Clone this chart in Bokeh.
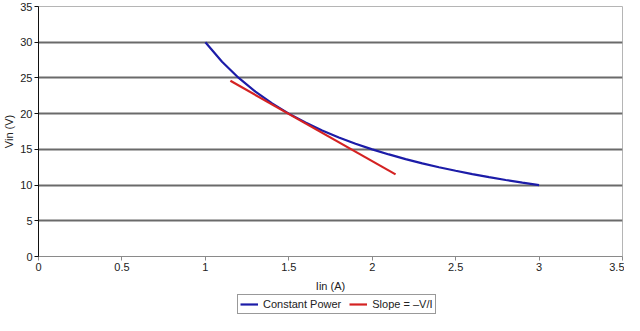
from bokeh.plotting import figure
from bokeh.layouts import column
from bokeh.models import Range1d, FixedTicker, NumeralTickFormatter, Legend, LegendItem
from bokeh.embed import file_html
from bokeh.resources import INLINE

# Data
power_i = [1.0, 1.1, 1.2, 1.3, 1.4, 1.5, 1.6, 1.7, 1.8, 1.9, 2.0,
           2.1, 2.2, 2.3, 2.4, 2.5, 2.6, 2.7, 2.8, 2.9, 3.0]
power_v = [30.0, 27.27, 25.0, 23.08, 21.43, 20.0, 18.75, 17.65, 16.67, 15.79, 15.0,
           14.29, 13.64, 13.04, 12.5, 12.0, 11.54, 11.11, 10.71, 10.34, 10.0]
slope_i = [1.15, 2.14]
slope_v = [24.6, 11.5]
x_ticks = [0, 0.5, 1, 1.5, 2, 2.5, 3, 3.5]
y_ticks = [0, 5, 10, 15, 20, 25, 30, 35]
grid_ticks = [5, 10, 15, 20, 25, 30]
series_names = ["Constant Power", "Slope = \u2013V/I"]
series_colors = ["#1c1ca8", "#d42222"]

FONT = "Liberation Sans"

p = figure(width=624, height=294, output_backend="svg", toolbar_location=None,
           x_range=Range1d(0, 3.5), y_range=Range1d(0, 35),
           min_border_left=36, min_border_right=2, min_border_top=6, min_border_bottom=36)

p.background_fill_color = "white"
p.border_fill_color = "white"
p.outline_line_color = "#b5b5b5"
p.outline_line_width = 1

# Grid
p.xgrid.visible = False
p.ygrid.ticker = FixedTicker(ticks=grid_ticks)
p.ygrid.grid_line_color = "#6a6a6a"
p.ygrid.grid_line_width = 2

# Axes
for ax in (p.xaxis[0], p.yaxis[0]):
    ax.major_label_text_font = FONT
    ax.major_label_text_font_size = "11px"
    ax.major_label_text_color = "#222222"
    ax.axis_label_text_font = FONT
    ax.axis_label_text_font_size = "11px"
    ax.axis_label_text_font_style = "normal"
    ax.axis_label_text_color = "#222222"
    ax.minor_tick_line_color = None
    ax.major_tick_in = 0
    ax.major_tick_out = 4

p.xaxis.ticker = FixedTicker(ticks=x_ticks)
p.xaxis.formatter = NumeralTickFormatter(format="0.[0]")
p.xaxis.axis_label = "Iin (A)"
p.xaxis.axis_line_color = "#8a8a8a"
p.xaxis.major_tick_line_color = "#8a8a8a"
p.xaxis.major_label_standoff = 2
p.xaxis.axis_label_standoff = 6

p.yaxis.ticker = FixedTicker(ticks=y_ticks)
p.yaxis.axis_label = "Vin (V)"
p.yaxis.axis_line_color = "#111111"
p.yaxis.major_tick_line_color = "#111111"
p.yaxis.major_label_standoff = 2
p.yaxis.axis_label_standoff = 2

r1 = p.line(power_i, power_v, line_color=series_colors[0], line_width=2.2)
r2 = p.line(slope_i, slope_v, line_color=series_colors[1], line_width=2.2)

# Legend row below the chart (its own small figure)
lf = figure(width=624, height=21, output_backend="svg", toolbar_location=None,
            x_axis_type=None, y_axis_type=None,
            x_range=Range1d(0, 1), y_range=Range1d(0, 1),
            min_border_left=0, min_border_right=0, min_border_top=0, min_border_bottom=0)
lf.outline_line_color = None
lf.background_fill_color = "white"
lf.border_fill_color = "white"
lf.xgrid.visible = False
lf.ygrid.visible = False
# legend swatches: renderers placed outside the visible range
d1 = lf.line([-2, -1], [-2, -1], line_color=series_colors[0], line_width=2.2)
d2 = lf.line([-2, -1], [-2, -1], line_color=series_colors[1], line_width=2.2)

legend = Legend(items=[LegendItem(label=series_names[0], renderers=[d1]),
                       LegendItem(label=series_names[1], renderers=[d2])],
                orientation="horizontal", location=(199, 1))
legend.label_text_font = FONT
legend.label_text_font_size = "11px"
legend.label_text_color = "#222222"
legend.border_line_color = "#333333"
legend.border_line_width = 1
legend.background_fill_alpha = 1.0
legend.padding = 2
legend.margin = 0
legend.spacing = 8
legend.glyph_width = 18
legend.glyph_height = 14
legend.label_height = 14
legend.label_standoff = 5
lf.add_layout(legend)

layout = column(p, lf, spacing=0)
open("out.html", "w").write(file_html(layout, INLINE))
